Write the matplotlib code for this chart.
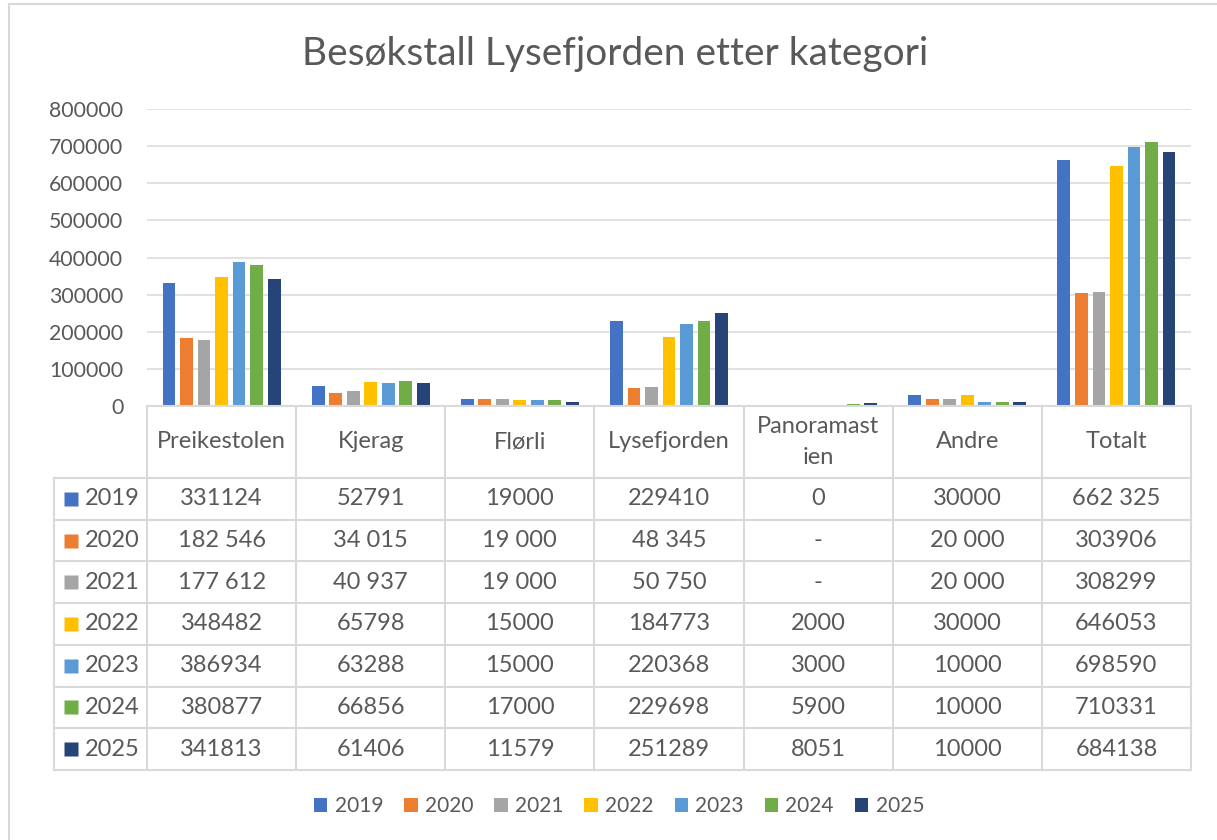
import matplotlib
matplotlib.use("Agg")
import matplotlib.pyplot as plt
from matplotlib.patches import Patch
from matplotlib.lines import Line2D
import numpy as np

plt.rcParams['font.family'] = ['Lato', 'DejaVu Sans']

# ---------------- data ----------------
title = "Besøkstall Lysefjorden etter kategori"
categories = ["Preikestolen", "Kjerag", "Flørli", "Lysefjorden", "Panoramastien", "Andre", "Totalt"]
header_labels = ["Preikestolen", "Kjerag", "Flørli", "Lysefjorden", "Panoramast\nien", "Andre", "Totalt"]
years = ["2019", "2020", "2021", "2022", "2023", "2024", "2025"]
colors = ["#4472C4", "#ED7D31", "#A5A5A5", "#FFC000", "#5B9BD5", "#70AD47", "#264478"]

# table cells as displayed (per year, per category)
row_2019 = ["331124", "52791", "19000", "229410", "0", "30000", "662 325"]
row_2020 = ["182 546", "34 015", "19 000", "48 345", "-", "20 000", "303906"]
row_2021 = ["177 612", "40 937", "19 000", "50 750", "-", "20 000", "308299"]
row_2022 = ["348482", "65798", "15000", "184773", "2000", "30000", "646053"]
row_2023 = ["386934", "63288", "15000", "220368", "3000", "10000", "698590"]
row_2024 = ["380877", "66856", "17000", "229698", "5900", "10000", "710331"]
row_2025 = ["341813", "61406", "11579", "251289", "8051", "10000", "684138"]
table_rows = [row_2019, row_2020, row_2021, row_2022, row_2023, row_2024, row_2025]

y_ticks = [0, 100000, 200000, 300000, 400000, 500000, 600000, 700000, 800000]


def to_num(s):
    s = s.replace(" ", "")
    return np.nan if s == "-" else float(s)


values = [[to_num(s) for s in row] for row in table_rows]

# ---------------- layout ----------------
W, H = 1217, 840
TXT = "#595959"
GRID = "#D9D9D9"
FS_TABLE = 17
fig = plt.figure(figsize=(W / 100, H / 100), dpi=100)


def fx(px):
    return px / W


def fy(py):
    return 1 - py / H


# chart area border (left/top visible)
fig.add_artist(Line2D([fx(9), fx(9)], [fy(4), 0], color=GRID, lw=1.5, transform=fig.transFigure))
fig.add_artist(Line2D([fx(9), 1], [fy(4), fy(4)], color=GRID, lw=1.5, transform=fig.transFigure))

L, R, T, B = 147, 1191, 109, 406
ax = fig.add_axes([fx(L), fy(B), (R - L) / W, (B - T) / H])
x = np.arange(len(categories))
pitch = 0.1174
width = 0.086
for j, (yr, col) in enumerate(zip(years, colors)):
    ax.bar(x + (j - 3) * pitch, values[j], width=width, color=col, zorder=3)
ax.set_xlim(-0.5, len(categories) - 0.5)
ax.set_ylim(0, 800000)
ax.set_yticks(y_ticks)
ax.set_yticklabels([str(v) for v in y_ticks])
ax.set_xticks([])
ax.grid(axis="y", color=GRID, lw=1.1, zorder=0)
ax.set_axisbelow(True)
for s in ax.spines.values():
    s.set_visible(False)
ax.tick_params(axis="y", length=0, pad=17, labelsize=15.3, labelcolor=TXT)

fig.text(fx(615), fy(54), title, ha="center", va="center", fontsize=28,
         color=TXT, fontweight="normal")

# ---------------- data table ----------------
TL, TB = 54, 770
col_px = (R - L) / len(categories)
xl = -0.5 - (L - TL) / col_px
tax = fig.add_axes([fx(TL), fy(TB), (R - TL) / W, (TB - B) / H])
tax.set_xlim(xl, len(categories) - 0.5)
tax.set_ylim(TB - B, 0)
tax.axis("off")
hdr = 72
rh = (TB - B - hdr) / len(years)
lw = 1.5
# horizontal lines
tax.plot([-0.5, len(categories) - 0.5], [0, 0], color=GRID, lw=lw, clip_on=False)
for k in range(len(years) + 1):
    yy = hdr + k * rh
    tax.plot([xl, len(categories) - 0.5], [yy, yy], color=GRID, lw=lw, clip_on=False)
for k in range(len(categories) + 1):
    xx = -0.5 + k
    tax.plot([xx, xx], [0, TB - B], color=GRID, lw=lw, clip_on=False)
tax.plot([xl, xl], [hdr, TB - B], color=GRID, lw=lw, clip_on=False)

for i, lab in enumerate(header_labels):
    tax.text(i, hdr / 2, lab, ha="center", va="center", fontsize=FS_TABLE, color=TXT,
             linespacing=1.55)
for r, (yr, col, row) in enumerate(zip(years, colors, table_rows)):
    yc = hdr + (r + 0.5) * rh
    tax.plot([xl + (71 - TL) / col_px], [yc], marker="s", ms=10, color=col,
             mec="none", clip_on=False)
    tax.text(xl + (85 - TL) / col_px, yc, yr, ha="left", va="center",
             fontsize=FS_TABLE, color=TXT)
    for i, s in enumerate(row):
        tax.text(i, yc, s, ha="center", va="center", fontsize=FS_TABLE, color=TXT)

# ---------------- legend ----------------
handles = [Patch(facecolor=c, edgecolor="none", label=y) for y, c in zip(years, colors)]
fig.legend(handles=handles, loc="center", bbox_to_anchor=(fx(619), fy(806)),
           ncol=len(years), frameon=False, fontsize=15, labelcolor=TXT,
           handlelength=0.65, handleheight=0.65, handletextpad=0.35,
           columnspacing=1.0)

fig.savefig("out.png", dpi=100)
